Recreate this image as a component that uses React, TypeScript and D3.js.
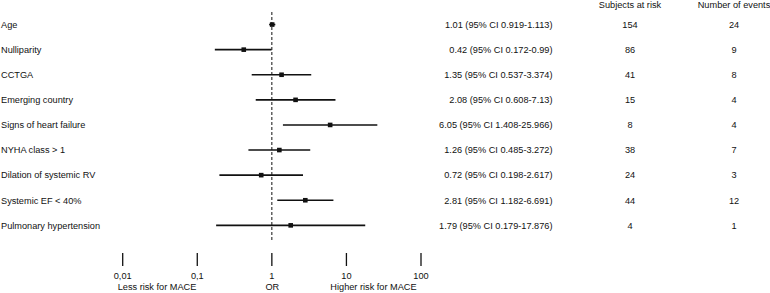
import React from "react";
import * as d3 from "d3";

const labels = [
  "Age",
  "Nulliparity",
  "CCTGA",
  "Emerging country",
  "Signs of heart failure",
  "NYHA class > 1",
  "Dilation of systemic RV",
  "Systemic EF < 40%",
  "Pulmonary hypertension",
];
const orValues = [1.01, 0.42, 1.35, 2.08, 6.05, 1.26, 0.72, 2.81, 1.79];
const ciLow = [0.919, 0.172, 0.537, 0.608, 1.408, 0.485, 0.198, 1.182, 0.179];
const ciHigh = [1.113, 0.99, 3.374, 7.13, 25.966, 3.272, 2.617, 6.691, 17.876];
const orText = [
  "1.01 (95% CI 0.919-1.113)",
  "0.42 (95% CI 0.172-0.99)",
  "1.35 (95% CI 0.537-3.374)",
  "2.08 (95% CI 0.608-7.13)",
  "6.05 (95% CI 1.408-25.966)",
  "1.26 (95% CI 0.485-3.272)",
  "0.72 (95% CI 0.198-2.617)",
  "2.81 (95% CI 1.182-6.691)",
  "1.79 (95% CI 0.179-17.876)",
];
const subjects = [154, 86, 41, 15, 8, 38, 24, 44, 4];
const events = [24, 9, 8, 4, 4, 7, 3, 12, 1];
const tickValues = [0.01, 0.1, 1, 10, 100];
const tickLabels = ["0,01", "0,1", "1", "10", "100"];

export default function App() {
  const W = 770;
  const H = 293;
  const x = d3.scaleLog().domain([0.01, 100]).range([122.7, 421]);
  const y = d3
    .scaleBand<number>()
    .domain(d3.range(labels.length))
    .range([12, 12 + 25.1 * labels.length]);
  const cy = (i: number) => (y(i) as number) + y.bandwidth() / 2;
  const font = "'Liberation Sans', Arial, sans-serif";
  const fs = 9.2;
  const col = "#111";
  return (
    <svg
      width={W}
      height={H}
      style={{ position: "absolute", left: 0, top: 0 }}
      fontFamily={font}
      fontSize={fs}
    >
      <rect width={W} height={H} fill="#fff" />
      <text x={630} y={8} textAnchor="middle" fill={col}>
        Subjects at risk
      </text>
      <text x={734} y={8} textAnchor="middle" fill={col}>
        Number of events
      </text>
      <line
        x1={x(1)}
        x2={x(1)}
        y1={12}
        y2={242}
        stroke={col}
        strokeWidth={1}
        strokeDasharray="3,2"
      />
      {labels.map((l, i) => (
        <g key={l}>
          <text x={1} y={cy(i) + 3.3} fill={col}>
            {l}
          </text>
          <line
            x1={x(ciLow[i])}
            x2={x(ciHigh[i])}
            y1={cy(i)}
            y2={cy(i)}
            stroke={col}
            strokeWidth={1.6}
          />
          <rect
            x={x(orValues[i]) - 2.3}
            y={cy(i) - 2.3}
            width={4.6}
            height={4.6}
            fill={col}
          />
          <text x={552.5} y={cy(i) + 3.3} textAnchor="end" fill={col}>
            {orText[i]}
          </text>
          <text x={630} y={cy(i) + 3.3} textAnchor="middle" fill={col}>
            {subjects[i]}
          </text>
          <text x={734} y={cy(i) + 3.3} textAnchor="middle" fill={col}>
            {events[i]}
          </text>
        </g>
      ))}
      {tickValues.map((t, i) => (
        <g key={t}>
          <line
            x1={x(t)}
            x2={x(t)}
            y1={253}
            y2={266}
            stroke={col}
            strokeWidth={1.3}
          />
          <text x={x(t)} y={278.5} textAnchor="middle" fill={col}>
            {tickLabels[i]}
          </text>
        </g>
      ))}
      <text x={157} y={290} textAnchor="middle" fill={col}>
        Less risk for MACE
      </text>
      <text x={x(1) + 0.5} y={290} textAnchor="middle" fill={col}>
        OR
      </text>
      <text x={373.5} y={290} textAnchor="middle" fill={col}>
        Higher risk for MACE
      </text>
    </svg>
  );
}
